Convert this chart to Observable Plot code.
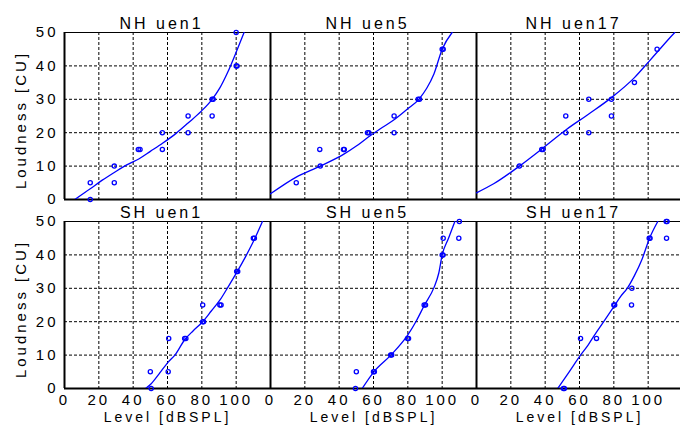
<!DOCTYPE html>
<html>
<head>
<meta charset="utf-8">
<script src="https://cdn.jsdelivr.net/npm/d3@7"></script>
<script src="https://cdn.jsdelivr.net/npm/@observablehq/plot@0.6"></script>
<style>
  html, body { margin: 0; padding: 0; background: #fff; }
  #chart svg text { letter-spacing: 3px; }
  #chart svg g[aria-label="y-title"] text { letter-spacing: 0.7px; }
  #chart svg g[aria-label="x-title"] text { letter-spacing: 3.5px; }
</style>
</head>
<body>
<div id="chart"></div>
<script>
// ---- Data ----
const rows = ["NH", "SH"];
const cols = ["uen1", "uen5", "uen17"];
const xTicks = [0, 20, 40, 60, 80, 100];
const yTicks = [0, 10, 20, 30, 40, 50];
const xGrid = [20, 40, 60, 80, 100];
const yGrid = [10, 20, 30, 40];
const xLabel = "Level [dBSPL]";
const yLabel = "Loudness [CU]";

// measured points [level dB SPL, loudness CU]
const nhUen1Points = [[15,5],[15,0],[29,10],[29,5],[43,15],[44,15],[57,20],[57,15],[72,25],[72,20],[86,30],[86.6,30],[86,25],[100,50],[100,40],[100.5,40]];
const nhUen5Points = [[15,5],[28.7,15],[29,10],[42.5,15],[43,15],[56.5,20],[57.3,20],[72,25],[72,20],[86,30],[86.8,30],[100,45],[100.6,45]];
const nhUen17Points = [[25,10],[38,15],[38.7,15],[52,20],[52,25],[65.4,30],[65.4,20],[78.6,30],[78.6,25],[92,35],[105.2,45]];
const shUen1Points = [[50,5],[50.5,0],[60.7,15],[60.4,5],[70,15],[70.7,15],[80.5,25],[80.5,20],[81,20],[90.5,25],[91.2,25],[100.3,35],[100.9,35],[110,45],[110.6,45]];
const shUen5Points = [[50,5],[49.5,0],[60,5],[60.5,5],[70,10],[70.6,10],[79.8,15],[80.4,15],[89.5,25],[90.3,25],[100,40],[100.5,40],[100.6,45],[110,50],[109.7,45]];
const shUen17Points = [[50.6,0],[51.2,0],[60.6,15],[69.9,15],[80,25],[80.5,25],[90.5,30],[90.3,25],[100.6,45],[101.1,45],[110.5,50],[111,50],[110.7,45]];

// fitted loudness functions [level, loudness]
const nhUen1Curve = [[6,0],[15,3.2],[22,5.8],[29,8.1],[36,10.3],[43.5,12.2],[50,14.4],[57.3,16.9],[65,19.8],[72,22.9],[80,26.6],[86,30],[90.5,33.4],[95,38],[100.4,44.6],[104.6,50]];
const nhUen5Curve = [[0,1.7],[15,6.7],[29,10],[42.5,13.5],[50,16],[57,18.7],[64,21.2],[72.4,24],[79.6,27],[86.4,30],[91,33.3],[95.2,37.6],[100,45],[105.8,50]];
const nhUen17Curve = [[0,2],[10,4.7],[25,10],[38.2,15.2],[52.2,20.9],[65.4,25.6],[78.6,30.5],[92,36.5],[100.4,41.3],[105.2,44.1],[114.4,49.4],[115.5,50]];
const shUen1Curve = [[47.2,0],[50.5,1.4],[55,4.3],[60.4,7.9],[64.3,10],[70,14.6],[75,17.3],[80.5,20],[85.5,23.2],[90.7,26.6],[95.5,30.6],[100.6,35],[105.5,39.5],[110.3,44.3],[115.3,50]];
const shUen5Curve = [[53.4,0],[60.2,5],[70.1,10],[79.8,15.9],[85,20.3],[89.7,25],[95.2,30.2],[98,34.5],[100,40],[103.7,45],[107.4,50]];
const shUen17Curve = [[47.3,0],[54,5],[60.6,10],[65,13],[69.9,16.9],[75,20.7],[80,24.5],[84,27.6],[87.8,30],[92,33.8],[96.5,38.8],[100.8,45],[105.6,50]];

const panels = [
  {row: "NH", col: "uen1", pts: nhUen1Points, curve: nhUen1Curve},
  {row: "NH", col: "uen5", pts: nhUen5Points, curve: nhUen5Curve},
  {row: "NH", col: "uen17", pts: nhUen17Points, curve: nhUen17Curve},
  {row: "SH", col: "uen1", pts: shUen1Points, curve: shUen1Curve},
  {row: "SH", col: "uen5", pts: shUen5Points, curve: shUen5Curve},
  {row: "SH", col: "uen17", pts: shUen17Points, curve: shUen17Curve}
];

const pointRows = panels.flatMap(p => p.pts.map(([x, y]) => ({row: p.row, col: p.col, x, y})));
const curveRows = panels.flatMap(p => p.curve.map(([x, y]) => ({row: p.row, col: p.col, x, y})));
const titleRows = panels.map(p => ({row: p.row, col: p.col, label: `${p.row} ${p.col}`}));
const leftPanels = panels.filter(p => p.col === "uen1");
const bottomPanels = panels.filter(p => p.row === "SH");

const blue = "#0000ff";

const chart = Plot.plot({
  width: 680,
  height: 425,
  marginLeft: 63,
  marginRight: -2,
  marginTop: 32,
  marginBottom: 37,
  style: {fontFamily: "'Liberation Sans', Arial, sans-serif", fontSize: "15px", background: "#fff", color: "#000"},
  fx: {domain: cols, paddingInner: 0, paddingOuter: 0, axis: null},
  fy: {domain: rows, paddingInner: 22 / 189, paddingOuter: 0, axis: null},
  x: {domain: [0, 120]},
  y: {domain: [0, 50]},
  marks: [
    Plot.ruleX(xGrid, {stroke: "#000", strokeWidth: 1, strokeDasharray: "3,2"}),
    Plot.ruleY(yGrid, {stroke: "#000", strokeWidth: 1, strokeDasharray: "3,2"}),
    Plot.frame({stroke: "#000", strokeWidth: 1}),
    Plot.ruleX([0], {stroke: "#000", strokeWidth: 2}),
    Plot.ruleY([0], {stroke: "#000", strokeWidth: 2}),
    Plot.axisY({ticks: yTicks, tickSize: 0, tickPadding: 6, label: null}),
    Plot.axisX({ticks: xTicks, tickSize: 0, tickPadding: 6, label: null}),
    Plot.line(curveRows, {x: "x", y: "y", fx: "col", fy: "row", stroke: blue, strokeWidth: 1.3, curve: "monotone-x", clip: true}),
    Plot.dot(pointRows, {x: "x", y: "y", fx: "col", fy: "row", r: 2.1, stroke: blue, strokeWidth: 1.3, fill: "none"}),
    Plot.text(titleRows, {fx: "col", fy: "row", text: "label", frameAnchor: "top", lineAnchor: "middle", textAnchor: "middle", dy: -9, dx: -6, fontSize: 16}),
    Plot.text(leftPanels, {fx: "col", fy: "row", text: () => yLabel, frameAnchor: "left", textAnchor: "middle", lineAnchor: "middle", rotate: -90, dx: -43, dy: 4, fontSize: 15, ariaLabel: "y-title"}),
    Plot.text(bottomPanels, {fx: "col", fy: "row", text: () => xLabel, frameAnchor: "bottom", textAnchor: "middle", lineAnchor: "middle", dy: 28.7, fontSize: 14, ariaLabel: "x-title"})
  ]
});

document.getElementById("chart").append(chart);
</script>
</body>
</html>
